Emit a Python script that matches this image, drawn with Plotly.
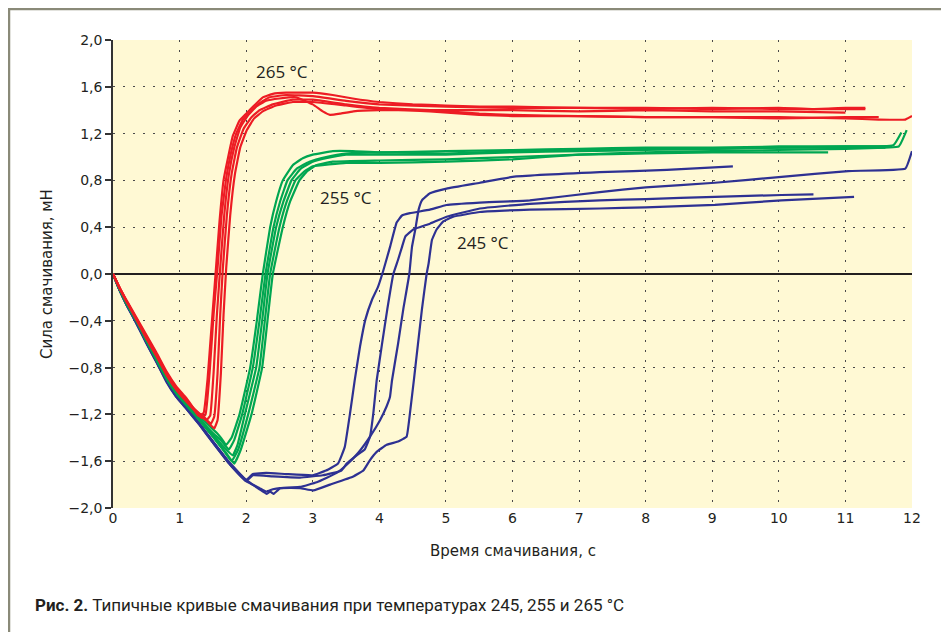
import plotly.graph_objects as go

# ---------------- data (time, s ; force, mN) ----------------
# 265 °C
R1_T = [0, 0.1, 0.2, 0.35, 0.5, 0.65, 0.8, 0.95, 1.1, 1.2, 1.28, 1.36, 1.42, 1.48, 1.54, 1.60, 1.66, 1.73, 1.80, 1.90, 2.0, 2.12, 2.25, 2.4, 2.6, 2.8, 3.0, 3.3, 3.6, 4.0, 4.5, 5.0, 5.5, 6.0, 7.0, 8.0, 9.0, 10.0, 10.5, 11.0, 11.3]
R1_F = [0, -0.12, -0.22, -0.37, -0.52, -0.67, -0.83, -0.96, -1.06, -1.14, -1.21, -1.19, -0.9, -0.45, 0.0, 0.45, 0.8, 1.0, 1.18, 1.31, 1.37, 1.44, 1.51, 1.54, 1.55, 1.55, 1.55, 1.53, 1.50, 1.47, 1.45, 1.44, 1.43, 1.43, 1.42, 1.42, 1.41, 1.42, 1.41, 1.42, 1.42]
R2_T = [0, 0.1, 0.2, 0.35, 0.5, 0.65, 0.8, 0.95, 1.1, 1.2, 1.33, 1.39, 1.45, 1.51, 1.57, 1.63, 1.70, 1.77, 1.85, 1.95, 2.05, 2.2, 2.35, 2.6, 3.0, 3.5, 4.0, 5.0, 6.0, 7.0, 8.0, 9.0, 10.0, 11.3]
R2_F = [0, -0.12, -0.23, -0.38, -0.53, -0.68, -0.84, -0.97, -1.07, -1.15, -1.23, -1.20, -0.85, -0.35, 0.05, 0.5, 0.82, 1.03, 1.2, 1.32, 1.38, 1.46, 1.51, 1.53, 1.52, 1.48, 1.45, 1.43, 1.42, 1.42, 1.41, 1.42, 1.41, 1.41]
R3_T = [0, 0.1, 0.2, 0.35, 0.5, 0.65, 0.8, 0.95, 1.1, 1.25, 1.40, 1.46, 1.51, 1.56, 1.61, 1.67, 1.74, 1.82, 1.91, 2.02, 2.15, 2.3, 2.5, 2.75, 3.0, 3.15, 3.26, 3.41, 3.61, 4.0, 5.0, 6.0, 7.0, 8.0, 9.0, 10.0, 11.0]
R3_F = [0, -0.12, -0.23, -0.38, -0.54, -0.69, -0.85, -0.98, -1.08, -1.17, -1.25, -1.21, -0.85, -0.35, 0.05, 0.5, 0.85, 1.08, 1.25, 1.35, 1.43, 1.48, 1.50, 1.51, 1.45, 1.39, 1.36, 1.37, 1.39, 1.40, 1.40, 1.40, 1.39, 1.40, 1.39, 1.39, 1.38]
R4_T = [0, 0.1, 0.2, 0.35, 0.5, 0.65, 0.8, 0.95, 1.1, 1.25, 1.38, 1.47, 1.52, 1.57, 1.61, 1.65, 1.71, 1.78, 1.86, 1.96, 2.08, 2.2, 2.4, 2.7, 3.0, 3.5, 4.0, 4.76, 5.5, 6.0, 7.0, 8.0, 9.0, 10.0, 11.0, 11.5, 11.9, 12.0]
R4_F = [0, -0.12, -0.23, -0.38, -0.54, -0.69, -0.85, -0.98, -1.08, -1.17, -1.23, -1.28, -1.22, -0.85, -0.35, 0.05, 0.5, 0.85, 1.08, 1.24, 1.34, 1.40, 1.45, 1.49, 1.49, 1.45, 1.42, 1.40, 1.37, 1.36, 1.35, 1.34, 1.34, 1.34, 1.33, 1.32, 1.32, 1.35]
R5_T = [0, 0.1, 0.2, 0.35, 0.5, 0.65, 0.8, 0.95, 1.1, 1.25, 1.4, 1.52, 1.57, 1.62, 1.66, 1.70, 1.76, 1.83, 1.91, 2.01, 2.12, 2.25, 2.45, 2.7, 3.0, 3.5, 4.0, 4.76, 5.5, 6.0, 7.0, 8.0, 9.0, 10.0, 11.0, 11.5]
R5_F = [0, -0.12, -0.23, -0.39, -0.55, -0.70, -0.86, -0.99, -1.09, -1.18, -1.25, -1.32, -1.25, -0.85, -0.35, 0.05, 0.5, 0.85, 1.08, 1.23, 1.33, 1.39, 1.44, 1.47, 1.47, 1.44, 1.41, 1.39, 1.36, 1.35, 1.35, 1.34, 1.34, 1.33, 1.34, 1.34]

# 255 °C
G1_T = [0, 0.1, 0.2, 0.35, 0.5, 0.65, 0.8, 0.95, 1.1, 1.3, 1.45, 1.56, 1.62, 1.70, 1.78, 1.90, 2.06, 2.16, 2.25, 2.36, 2.45, 2.55, 2.7, 2.85, 3.0, 3.3, 3.6, 4.0, 5.0, 6.0, 7.0, 8.0, 9.0, 10.0, 11.0, 11.72, 11.84]
G1_F = [0, -0.13, -0.24, -0.39, -0.55, -0.71, -0.87, -1.0, -1.1, -1.22, -1.30, -1.36, -1.40, -1.46, -1.40, -1.2, -0.8, -0.4, 0.0, 0.4, 0.62, 0.8, 0.93, 0.99, 1.02, 1.05, 1.05, 1.04, 1.05, 1.06, 1.07, 1.08, 1.08, 1.09, 1.09, 1.10, 1.21]
G2_T = [0, 0.1, 0.2, 0.35, 0.5, 0.65, 0.8, 0.95, 1.1, 1.3, 1.5, 1.65, 1.80, 1.87, 1.98, 2.15, 2.24, 2.32, 2.45, 2.56, 2.68, 2.82, 3.0, 3.2, 3.5, 4.0, 5.0, 6.0, 7.0, 8.0, 9.0, 10.0, 11.0, 11.8, 11.92]
G2_F = [0, -0.13, -0.24, -0.40, -0.56, -0.72, -0.88, -1.01, -1.11, -1.24, -1.37, -1.47, -1.55, -1.46, -1.2, -0.8, -0.4, 0.0, 0.4, 0.62, 0.8, 0.9, 0.96, 0.99, 1.02, 1.02, 1.02, 1.04, 1.05, 1.06, 1.07, 1.08, 1.08, 1.09, 1.23]
G3_T = [0, 0.1, 0.2, 0.35, 0.5, 0.65, 0.8, 0.95, 1.1, 1.3, 1.5, 1.7, 1.82, 1.92, 2.08, 2.24, 2.32, 2.40, 2.55, 2.66, 2.8, 2.92, 3.05, 3.3, 4.0, 5.0, 6.0, 7.0, 8.0, 9.0, 10.0, 10.74]
G3_F = [0, -0.13, -0.25, -0.40, -0.57, -0.73, -0.89, -1.02, -1.12, -1.25, -1.39, -1.53, -1.62, -1.50, -1.2, -0.8, -0.4, 0.0, 0.4, 0.62, 0.8, 0.88, 0.93, 0.96, 0.97, 0.98, 1.0, 1.02, 1.03, 1.04, 1.04, 1.04]
G4_T = [0, 0.1, 0.2, 0.35, 0.5, 0.65, 0.8, 0.95, 1.1, 1.3, 1.5, 1.65, 1.78, 1.88, 2.03, 2.2, 2.28, 2.36, 2.5, 2.61, 2.74, 2.88, 3.0, 3.5, 4.0, 5.0, 6.0, 7.0, 8.0, 9.0, 10.0, 11.0, 11.6]
G4_F = [0, -0.13, -0.25, -0.40, -0.57, -0.73, -0.89, -1.02, -1.12, -1.25, -1.39, -1.50, -1.60, -1.50, -1.2, -0.8, -0.4, 0.0, 0.4, 0.62, 0.8, 0.88, 0.92, 0.95, 0.95, 0.96, 0.98, 1.02, 1.04, 1.05, 1.06, 1.07, 1.08]
G5_T = [0, 0.1, 0.2, 0.35, 0.5, 0.65, 0.8, 0.95, 1.1, 1.3, 1.5, 1.62, 1.74, 1.82, 1.94, 2.1, 2.2, 2.29, 2.41, 2.51, 2.62, 2.76, 2.95, 3.2, 3.5, 4.0, 5.0, 6.0, 7.0, 8.0, 9.0, 10.0, 11.0, 11.7]
G5_F = [0, -0.13, -0.24, -0.39, -0.56, -0.72, -0.88, -1.01, -1.11, -1.24, -1.36, -1.42, -1.50, -1.42, -1.2, -0.8, -0.4, 0.0, 0.4, 0.62, 0.8, 0.9, 0.96, 1.0, 1.03, 1.04, 1.03, 1.05, 1.06, 1.07, 1.07, 1.08, 1.09, 1.09]

# 245 °C
B1_T = [0, 0.1, 0.2, 0.35, 0.5, 0.65, 0.8, 0.95, 1.1, 1.3, 1.5, 1.76, 2.0, 2.1, 2.3, 2.6, 3.0, 3.2, 3.38, 3.48, 3.56, 3.63, 3.71, 3.79, 3.89, 3.98, 4.06, 4.16, 4.26, 4.34, 4.46, 4.76, 5.01, 5.51, 6.26, 7.31, 8.0, 9.04, 10.04, 11.04, 11.9, 12.0]
B1_F = [0, -0.14, -0.26, -0.41, -0.58, -0.74, -0.91, -1.04, -1.14, -1.28, -1.43, -1.62, -1.76, -1.71, -1.70, -1.71, -1.72, -1.68, -1.62, -1.48, -1.19, -0.91, -0.62, -0.39, -0.22, -0.11, 0.03, 0.23, 0.44, 0.50, 0.52, 0.55, 0.59, 0.61, 0.63, 0.70, 0.74, 0.78, 0.83, 0.88, 0.90, 1.05]
B2_T = [0, 0.1, 0.2, 0.35, 0.5, 0.65, 0.8, 0.95, 1.1, 1.3, 1.5, 1.76, 2.0, 2.1, 2.4, 2.81, 3.15, 3.43, 3.51, 3.66, 3.78, 3.86, 3.91, 3.96, 4.04, 4.12, 4.21, 4.28, 4.34, 4.39, 4.51, 4.76, 5.01, 5.51, 6.26, 7.31, 8.0, 9.04, 10.04, 10.52]
B2_F = [0, -0.14, -0.26, -0.42, -0.59, -0.75, -0.92, -1.05, -1.15, -1.29, -1.44, -1.63, -1.77, -1.72, -1.73, -1.74, -1.72, -1.68, -1.62, -1.55, -1.50, -1.39, -1.19, -0.91, -0.6, -0.3, 0.0, 0.12, 0.23, 0.32, 0.38, 0.43, 0.49, 0.56, 0.60, 0.63, 0.64, 0.66, 0.675, 0.68]
B3_T = [0, 0.1, 0.2, 0.35, 0.5, 0.65, 0.8, 0.95, 1.1, 1.3, 1.5, 1.76, 2.0, 2.2, 2.31, 2.36, 2.41, 2.51, 2.81, 3.06, 3.36, 3.51, 3.68, 3.86, 4.01, 4.11, 4.16, 4.19, 4.28, 4.36, 4.45, 4.49, 4.54, 4.59, 4.64, 4.76, 5.01, 5.51, 6.0, 7.31, 8.32, 9.31]
B3_F = [0, -0.14, -0.25, -0.41, -0.58, -0.74, -0.90, -1.04, -1.14, -1.28, -1.43, -1.62, -1.76, -1.84, -1.88, -1.86, -1.88, -1.83, -1.82, -1.78, -1.70, -1.63, -1.53, -1.39, -1.25, -1.13, -1.05, -0.91, -0.6, -0.3, 0.0, 0.23, 0.38, 0.55, 0.63, 0.69, 0.73, 0.78, 0.83, 0.87, 0.89, 0.92]
B4_T = [0, 0.1, 0.2, 0.35, 0.5, 0.65, 0.8, 0.95, 1.1, 1.3, 1.5, 1.76, 2.0, 2.2, 2.3, 2.4, 2.51, 2.81, 3.01, 3.26, 3.61, 3.76, 3.86, 3.96, 4.11, 4.29, 4.41, 4.46, 4.52, 4.58, 4.64, 4.71, 4.74, 4.79, 4.86, 4.96, 5.11, 5.51, 6.26, 7.31, 8.0, 9.04, 10.04, 11.13]
B4_F = [0, -0.14, -0.26, -0.42, -0.59, -0.75, -0.91, -1.05, -1.15, -1.29, -1.44, -1.63, -1.77, -1.83, -1.86, -1.84, -1.83, -1.83, -1.85, -1.80, -1.73, -1.68, -1.59, -1.52, -1.46, -1.43, -1.39, -1.19, -0.9, -0.6, -0.3, 0.0, 0.09, 0.29, 0.38, 0.45, 0.49, 0.53, 0.55, 0.56, 0.57, 0.59, 0.63, 0.66]

Y_TICKS = [2.0, 1.6, 1.2, 0.8, 0.4, 0.0, -0.4, -0.8, -1.2, -1.6, -2.0]
Y_LABELS = ["2,0", "1,6", "1,2", "0,8", "0,4", "0,0", "\u22120,4", "\u22120,8", "\u22121,2", "\u22121,6", "\u22122,0"]
X_TICKS = list(range(0, 13))

LABELS = ["265 \u00b0C", "255 \u00b0C", "245 \u00b0C"]
LABEL_T = [2.54, 3.5, 5.56]
LABEL_F = [1.73, 0.65, 0.27]

RED = "#ed1c24"
GREEN = "#00a651"
BLUE = "#2e3192"

fig = go.Figure()
groups = [
    (BLUE, [(B1_T, B1_F), (B2_T, B2_F), (B3_T, B3_F), (B4_T, B4_F)]),
    (GREEN, [(G1_T, G1_F), (G2_T, G2_F), (G3_T, G3_F), (G4_T, G4_F), (G5_T, G5_F)]),
    (RED, [(R1_T, R1_F), (R2_T, R2_F), (R3_T, R3_F), (R4_T, R4_F), (R5_T, R5_F)]),
]
for color, curves in groups:
    for t, f in curves:
        fig.add_trace(go.Scatter(x=t, y=f, mode="lines",
                                 line=dict(color=color, width=2.2, shape="spline", smoothing=0.3),
                                 hoverinfo="skip", showlegend=False))

for txt, tx, fy in zip(LABELS, LABEL_T, LABEL_F):
    fig.add_annotation(x=tx, y=fy, text=txt, showarrow=False,
                       font=dict(family="Open Sans", size=17, color="#231f20"))

# page body has an 8 px margin; figure is sized/placed to compensate
OFF = 8
W, H = 949 - OFF, 632 - OFF
L, R, T, B = 113 - OFF, 37, 40 - OFF, 124
pw, ph = W - L - R, H - T - B

def px_x(p):
    return (p - OFF - L) / pw

def px_y(p):
    return (H - B - (p - OFF)) / ph

# axis titles and caption
fig.add_annotation(xref="paper", yref="paper", x=px_x(47), y=0.5, text="Сила смачивания, мН",
                   textangle=-90, showarrow=False, xanchor="center", yanchor="middle",
                   font=dict(family="DejaVu Sans", size=15, color="#231f20"))
fig.add_annotation(xref="paper", yref="paper", x=0.5, y=px_y(551), text="Время смачивания, с",
                   showarrow=False, xanchor="center", yanchor="middle",
                   font=dict(family="DejaVu Sans", size=15, color="#231f20"))
fig.add_annotation(xref="paper", yref="paper", x=px_x(33), y=px_y(605),
                   text="<b>Рис. 2.</b> Типичные кривые смачивания при температурах 245, 255 и 265 °C",
                   showarrow=False, xanchor="left", yanchor="middle",
                   font=dict(family="Liberation Sans Narrow, Roboto, sans-serif", size=17, color="#231f20"))

# frame lines (top and left)
frame = "#8a8a78"
fig.add_shape(type="line", xref="paper", yref="paper", x0=px_x(8), x1=px_x(960), y0=px_y(9), y1=px_y(9),
              line=dict(color=frame, width=2.5))
fig.add_shape(type="line", xref="paper", yref="paper", x0=px_x(9), x1=px_x(9), y0=px_y(8), y1=px_y(640),
              line=dict(color=frame, width=2.5))

grid = dict(showgrid=True, gridcolor="#4a4a4a", gridwidth=1.2, griddash="1.5px,8.5px")
fig.update_layout(
    width=W, height=H, autosize=False,
    margin=dict(l=L, r=R, t=T, b=B),
    paper_bgcolor="white", plot_bgcolor="#fff9d4",
    hovermode=False,
    xaxis=dict(range=[0, 12], tickvals=X_TICKS, zeroline=False, showline=False, ticks="",
               tickfont=dict(family="DejaVu Sans", size=14, color="#231f20"), **grid),
    yaxis=dict(range=[-2, 2], tickvals=Y_TICKS, ticktext=Y_LABELS, zeroline=True,
               zerolinecolor="#231f20", zerolinewidth=1.6, showline=True, linecolor="#333333",
               linewidth=1.5, ticks="outside", ticklen=6, tickcolor="#333333", tickwidth=1.5,
               tickfont=dict(family="DejaVu Sans", size=14, color="#231f20"), **grid),
)

fig.write_html("out.html")
